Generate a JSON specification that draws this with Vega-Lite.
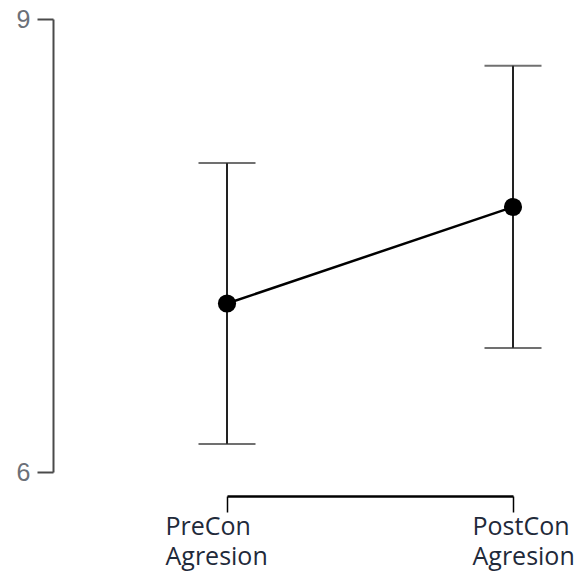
{
  "$schema": "https://vega.github.io/schema/vega-lite/v6.json",
  "autosize": {"type": "none"},
  "padding": {"left": 53, "top": 19, "right": 0, "bottom": 112},
  "width": 529,
  "height": 453,
  "background": "white",
  "config": {"view": {"stroke": null}},
  "data": {
    "values": [
      {"cond": "PreCon Agresion", "mean": 7.116, "lo": 6.186, "hi": 8.046},
      {"cond": "PostCon Agresion", "mean": 7.755, "lo": 6.821, "hi": 8.691}
    ]
  },
  "encoding": {
    "x": {
      "field": "cond",
      "type": "nominal",
      "sort": null,
      "scale": {"type": "point", "range": [174, 460], "padding": 0},
      "axis": {
        "title": null,
        "offset": 24,
        "domainColor": "#000",
        "domainWidth": 2.5,
        "tickColor": "#000",
        "tickWidth": 1.5,
        "tickSize": 16,
        "labelAngle": 0,
        "labelAlign": "left",
        "labelBaseline": "top",
        "labelPadding": 2,
        "labelFont": "Open Sans",
        "labelFontSize": 25,
        "labelLineHeight": 30,
        "labelColor": "#1f2a3a",
        "labelExpr": "split(datum.label, ' ')",
        "labelOffset": {"condition": {"test": "datum.value == 'PreCon Agresion'", "value": -62}, "value": -41}
      }
    }
  },
  "layer": [
    {
      "mark": {"type": "rule", "color": "#222", "strokeWidth": 2},
      "encoding": {
        "y": {
          "field": "lo",
          "type": "quantitative",
          "scale": {"domain": [6, 9], "nice": false, "zero": false},
          "axis": {
            "title": null,
            "values": [6, 9],
            "format": "d",
            "grid": false,
            "domainColor": "#4a4a4a",
            "domainWidth": 2,
            "tickColor": "#4a4a4a",
            "tickWidth": 2,
            "tickSize": 16,
            "labelPadding": 7,
            "labelFont": "Liberation Sans",
            "labelFontSize": 25,
            "labelColor": "#6b7078"
          }
        },
        "y2": {"field": "hi"}
      }
    },
    {
      "mark": {"type": "tick", "color": "#333", "thickness": 2, "size": 57, "orient": "horizontal"},
      "encoding": {"y": {"field": "lo", "type": "quantitative"}}
    },
    {
      "mark": {"type": "tick", "color": "#333", "thickness": 2, "size": 57, "orient": "horizontal"},
      "encoding": {"y": {"field": "hi", "type": "quantitative"}}
    },
    {
      "mark": {"type": "line", "color": "#000", "strokeWidth": 2.5},
      "encoding": {"y": {"field": "mean", "type": "quantitative"}}
    },
    {
      "mark": {"type": "point", "filled": true, "color": "#000", "opacity": 1, "size": 330},
      "encoding": {"y": {"field": "mean", "type": "quantitative"}}
    }
  ]
}
